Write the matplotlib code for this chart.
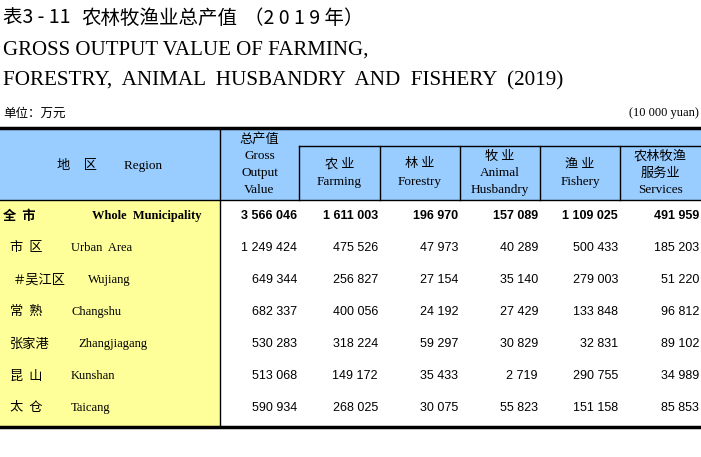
import matplotlib.pyplot as plt
from matplotlib.patches import Rectangle

# 数据
regions_cn = ['全  市', '市  区', '＃吴江区', '常  熟', '张家港', '昆  山', '太  仓']
regions_en = ['Whole  Municipality', 'Urban  Area', 'Wujiang', 'Changshu',
              'Zhangjiagang', 'Kunshan', 'Taicang']
gross = ['3 566 046', '1 249 424', '649 344', '682 337', '530 283', '513 068', '590 934']
farming = ['1 611 003', '475 526', '256 827', '400 056', '318 224', '149 172', '268 025']
forestry = ['196 970', '47 973', '27 154', '24 192', '59 297', '35 433', '30 075']
animal = ['157 089', '40 289', '35 140', '27 429', '30 829', '2 719', '55 823']
fishery = ['1 109 025', '500 433', '279 003', '133 848', '32 831', '290 755', '151 158']
services = ['491 959', '185 203', '51 220', '96 812', '89 102', '34 989', '85 853']

columns = [gross, farming, forestry, animal, fishery, services]

CJK = ['Noto Sans CJK SC', 'DejaVu Sans']
SERIF = ['Liberation Serif', 'Noto Sans CJK SC']
SANS = ['Liberation Sans', 'DejaVu Sans']

fig = plt.figure(figsize=(7.01, 4.57), dpi=100)
ax = fig.add_axes([0, 0, 1, 1])
ax.set_xlim(0, 701)
ax.set_ylim(457, 0)
ax.axis('off')

# 标题（三段分开放，贴近原图的等宽数字间距）
title_kw = dict(family=CJK, fontsize=14, fontweight='medium', va='center', ha='left')
ax.text(3, 18, '表3 - 11', **title_kw)
ax.text(81, 18, '农林牧渔业总产值', **title_kw)
ax.text(244, 18, '（2 0 1 9 年）', **title_kw)
ax.text(3, 50, 'GROSS OUTPUT VALUE OF FARMING,', family=SERIF, fontsize=15,
        va='center', ha='left')
ax.text(3, 81, 'FORESTRY,  ANIMAL  HUSBANDRY  AND  FISHERY  (2019)', family=SERIF,
        fontsize=15.2, va='center', ha='left')
ax.text(3, 113, '单位：万元', family=CJK, fontsize=9, va='center', ha='left')
ax.text(699, 113, '(10 000 yuan)', family=SERIF, fontsize=9, va='center', ha='right')

# 表头背景
top, sub, hb, bottom = 128, 146, 200, 427
ax.add_patch(Rectangle((0, top), 701, hb - top, facecolor='#99ccff', edgecolor='none'))
ax.add_patch(Rectangle((0, hb), 220, bottom - hb, facecolor='#ffff99', edgecolor='none'))

edges = [220, 299, 380, 460, 540, 620, 701]
ax.plot([0, 701], [top, top], color='black', lw=2.5)
ax.plot([0, 701], [bottom, bottom], color='black', lw=2.5)
ax.plot([0, 701], [hb, hb], color='black', lw=1)
ax.plot([299, 701], [sub, sub], color='black', lw=1)
ax.plot([220, 220], [top, bottom], color='black', lw=1)
for x in edges[1:-1]:
    ax.plot([x, x], [sub, hb], color='black', lw=1)

# 表头文字
ax.text(110, 165, '地    区        Region', family=SERIF, fontsize=9.5, ha='center', va='center')
hdr = dict(ha='center', va='center', fontsize=9.5)
gx = (220 + 299) / 2
ax.text(gx, 139, '总产值', family=CJK, **hdr)
ax.text(gx, 156, 'Gross', family=SERIF, **hdr)
ax.text(gx, 173, 'Output', family=SERIF, **hdr)
ax.text(gx, 190, 'Value', family=SERIF, **hdr)

heads = [('农 业', 'Farming'), ('林 业', 'Forestry'), None, ('渔 业', 'Fishery')]
for i, h in enumerate(heads):
    if h is None:
        continue
    cx = (edges[i + 1] + edges[i + 2]) / 2
    ax.text(cx, 164, h[0], family=CJK, **hdr)
    ax.text(cx, 182, h[1], family=SERIF, **hdr)
cx = (460 + 540) / 2
ax.text(cx, 156, '牧 业', family=CJK, **hdr)
ax.text(cx, 173, 'Animal', family=SERIF, **hdr)
ax.text(cx, 190, 'Husbandry', family=SERIF, **hdr)
cx = (620 + 701) / 2
ax.text(cx, 156, '农林牧渔', family=CJK, **hdr)
ax.text(cx, 173, '服务业', family=CJK, **hdr)
ax.text(cx, 190, 'Services', family=SERIF, **hdr)

# 表体
cn_x = [3, 10, 13, 10, 10, 10, 10]
en_x = [92, 71, 88, 71, 78, 71, 71]
for r in range(len(regions_cn)):
    y = 216 + r * 32
    bold = 'bold' if r == 0 else 'normal'
    ax.text(cn_x[r], y, regions_cn[r], family=CJK, fontsize=9.5, fontweight=bold,
            ha='left', va='center')
    ax.text(en_x[r], y, regions_en[r], family=SERIF, fontsize=9, fontweight=bold,
            ha='left', va='center')
    for c, col in enumerate(columns):
        ax.text(edges[c + 1] - 2, y, col[r], family=SANS, fontsize=9, fontweight=bold,
                ha='right', va='center')

fig.savefig('out.png', dpi=100)
